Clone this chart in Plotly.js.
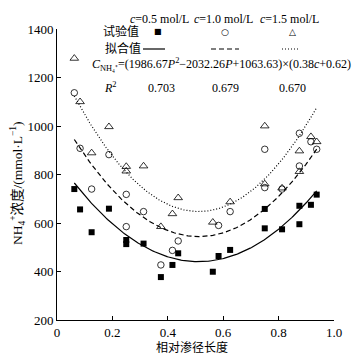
<!DOCTYPE html>
<html>
<head>
<meta charset="utf-8">
<script src="https://cdn.plot.ly/plotly-3.0.1.min.js"></script>
<style>html,body{margin:0;padding:0;background:#fff;}#chart{width:356px;height:362px;}</style>
</head>
<body>
<div id="chart"></div>
<script>
// Relative seepage path length (P) and NH4+ concentration
const p05 = [0.0625,0.0833,0.125,0.1875,0.25,0.25,0.3125,0.375,0.4167,0.4375,0.5625,0.5833,0.625,0.75,0.75,0.8125,0.875,0.875,0.9167,0.9375];
const v05 = [740,656,562,659,530,513,515,377,427,475,399,464,489,658,578,574,671,595,675,717];
const p10 = [0.0625,0.0833,0.125,0.1875,0.25,0.25,0.3125,0.375,0.4167,0.4375,0.5833,0.625,0.75,0.75,0.8125,0.875,0.875,0.9167,0.9375];
const v10 = [1137,908,740,882,718,585,647,427,487,526,590,647,904,746,740,970,835,935,904];
const p15 = [0.0625,0.0833,0.125,0.1875,0.25,0.25,0.3125,0.375,0.4167,0.4375,0.5625,0.625,0.75,0.75,0.8125,0.875,0.875,0.9167,0.9375];
const v15 = [1279,1100,889,997,833,814,835,585,638,704,603,687,1000,761,744,897,812,956,935];
// Fitted model printed on the chart: C = (a P^2 + b P + k) * (m c + n)
const quadCoef = [1986.67, -2032.26, 1063.63];
const concCoef = [0.38, 0.62];
const concentrations = [0.5, 1.0, 1.5];
const fitRange = [0.0625, 0.9375];
const r2 = ['0.703','0.679','0.670'];
const xTickVals = [0,0.2,0.4,0.6,0.8,1.0];
const xTickText = ['0','0.2','0.4','0.6','0.8','1.0'];
const yTickVals = [200,400,600,800,1000,1200,1400];

const serif = 'Liberation Serif, Times New Roman, serif';
const cjk = 'Liberation Serif, Noto Sans CJK SC, serif';

function fit(c){
  const xs=[], ys=[];
  for(let p=fitRange[0]; p<=fitRange[1]+1e-9; p+=0.005){
    xs.push(p);
    ys.push((quadCoef[0]*p*p + quadCoef[1]*p + quadCoef[2])*(concCoef[0]*c+concCoef[1]));
  }
  return {xs, ys};
}
const dashes = ['solid','5px,3px','1px,2px'];
const traces = [];
concentrations.forEach((c,i)=>{
  const f = fit(c);
  traces.push({x:f.xs, y:f.ys, mode:'lines', type:'scatter', line:{color:'#000', width:1.2, dash:dashes[i]}, hoverinfo:'skip'});
});
traces.push({x:p05, y:v05, mode:'markers', type:'scatter', marker:{symbol:'square', size:6, color:'#000'}});
traces.push({x:p10, y:v10, mode:'markers', type:'scatter', marker:{symbol:'circle-open', size:6.5, color:'#000', line:{width:0.8, color:'#000'}}});
traces.push({x:p15, y:v15, mode:'markers', type:'scatter', marker:{symbol:'triangle-up-open', size:7.5, color:'#000', line:{width:0.8, color:'#000'}}});

const W=277, H=291, L=57, T=29;
const px = x => (x-L)/W;
const py = y => (T+H-y)/H;
const ann = [];
function txt(text, x, y, opts){
  ann.push(Object.assign({text, xref:'paper', yref:'paper', x:px(x), y:py(y), showarrow:false, xanchor:'center', yanchor:'middle', font:{family:serif, size:12, color:'#000'}}, opts||{}));
}
['<i>c</i>=0.5 mol/L','<i>c</i>=1.0 mol/L','<i>c</i>=1.5 mol/L'].forEach((t,i)=>txt(t,[159,223.5,289][i],19));
txt('试验值',121,32,{font:{family:cjk,size:12,color:'#000'}});
txt('■',158,32,{font:{family:'DejaVu Sans',size:8,color:'#000'}});
txt('○',225,32,{font:{family:'DejaVu Sans',size:9,color:'#000'}});
txt('△',292,32,{font:{family:'DejaVu Sans',size:9,color:'#000'}});
txt('拟合值',123,49,{font:{family:cjk,size:12,color:'#000'}});
txt('<i>C</i><sub>NH₄⁺</sub>=(1986.67<i>P</i><sup>2</sup>−2032.26<i>P</i>+1063.63)×(0.38<i>c</i>+0.62)',221,64,{font:{family:serif,size:12,color:'#000'}});
txt('<i>R</i><sup>2</sup>',110,88);
r2.forEach((t,i)=>txt(t,[161.5,225,292][i],88));
txt('相对渗径长度',192,347,{font:{family:cjk,size:12,color:'#000'}});
txt('NH<sub>4</sub><sup>+</sup>浓度/(mmol·L<sup>−1</sup>)',17,183,{textangle:-90,font:{family:cjk,size:13.5,color:'#000'}});

const shapes = [
  {type:'line', xref:'paper', yref:'paper', x0:px(143), x1:px(165), y0:py(49), y1:py(49), line:{color:'#000', width:1.2}},
  {type:'line', xref:'paper', yref:'paper', x0:px(211), x1:px(239), y0:py(49), y1:py(49), line:{color:'#000', width:1.2, dash:'5px,3px'}},
  {type:'line', xref:'paper', yref:'paper', x0:px(282), x1:px(300), y0:py(49), y1:py(49), line:{color:'#000', width:1.2, dash:'1px,2px'}}
];

const layout = {
  width:356, height:362,
  margin:{l:57, r:22, t:29, b:42, pad:0},
  paper_bgcolor:'#fff', plot_bgcolor:'#fff',
  showlegend:false,
  font:{family:serif, size:12, color:'#000'},
  xaxis:{range:[0,1], tickvals:xTickVals, ticktext:xTickText, ticks:'inside', ticklen:4, tickwidth:1, tickcolor:'#000',
         showline:true, linecolor:'#000', linewidth:1, showgrid:false, zeroline:false, tickfont:{family:serif,size:13,color:'#000'}},
  yaxis:{range:[200,1400], tickvals:yTickVals, ticks:'inside', ticklen:4, tickwidth:1, tickcolor:'#000',
         showline:true, linecolor:'#000', linewidth:1, showgrid:false, zeroline:false, tickfont:{family:serif,size:13,color:'#000'}},
  annotations:ann, shapes:shapes
};
Plotly.newPlot('chart', traces, layout, {staticPlot:true, displayModeBar:false});
</script>
</body>
</html>
